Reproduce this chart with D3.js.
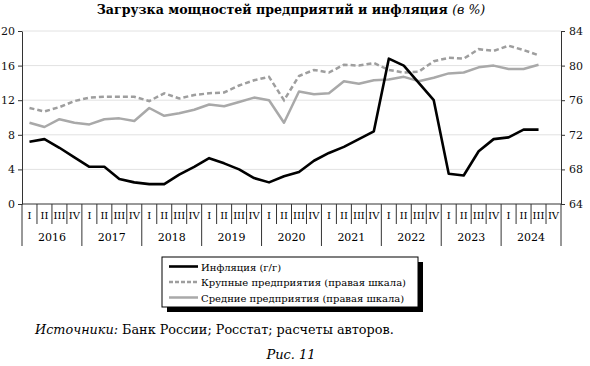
<!DOCTYPE html>
<html>
<head>
<meta charset="utf-8">
<script src="https://cdn.jsdelivr.net/npm/d3@7"></script>
<style>
  body { margin: 0; background: #fff; }
  svg text { font-family: "DejaVu Serif", "Liberation Serif", serif; }
</style>
</head>
<body>
<svg id="chart" width="590" height="366"></svg>
<script>
const years = ['2016', '2017', '2018', '2019', '2020', '2021', '2022', '2023', '2024'];
const quarterNames = ['I', 'II', 'III', 'IV'];

// inflation y/y, left scale, 2016Q1..2024Q3
const inflation = [7.2, 7.5, 6.5, 5.4, 4.3, 4.3, 2.9, 2.5, 2.3, 2.3, 3.4, 4.3,
  5.3, 4.7, 4.0, 3.0, 2.5, 3.2, 3.7, 5.0, 5.9, 6.6, 7.5, 8.4,
  16.8, 16.0, 14.0, 12.0, 3.5, 3.3, 6.1, 7.5, 7.7, 8.6, 8.6];
// capacity load, right scale
const large = [75.1, 74.7, 75.2, 75.9, 76.3, 76.4, 76.4, 76.4, 75.9, 76.8, 76.2, 76.6,
  76.8, 76.9, 77.7, 78.3, 78.7, 76.0, 78.8, 79.5, 79.2, 80.1, 80.0, 80.3,
  79.5, 79.2, 79.3, 80.5, 80.9, 80.8, 81.9, 81.7, 82.3, 81.8, 81.2];
const medium = [73.4, 72.9, 73.8, 73.4, 73.2, 73.8, 73.9, 73.6, 75.1, 74.2, 74.5, 74.9,
  75.5, 75.3, 75.8, 76.3, 76.0, 73.4, 77.0, 76.7, 76.8, 78.2, 77.9, 78.3,
  78.4, 78.7, 78.2, 78.6, 79.1, 79.2, 79.8, 80.0, 79.6, 79.6, 80.1];

const leftTicks = [0, 4, 8, 12, 16, 20];
const rightTicks = [64, 68, 72, 76, 80, 84];

const margin = { top: 31, right: 29, bottom: 162, left: 22 };
const width = 590, height = 366;
const serif = '"DejaVu Serif", "Liberation Serif", serif';

const svg = d3.select('#chart');

const quarters = [];
years.forEach(y => quarterNames.forEach(q => quarters.push(y + '-' + q)));

const x = d3.scaleBand().domain(quarters).range([margin.left, width - margin.right]).padding(0);
const yL = d3.scaleLinear().domain([0, 20]).range([height - margin.bottom, margin.top]);
const yR = d3.scaleLinear().domain([64, 84]).range([height - margin.bottom, margin.top]);
const cx = i => x(quarters[i]) + x.bandwidth() / 2;

// title
const title = svg.append('text')
  .attr('x', 291).attr('y', 14)
  .attr('text-anchor', 'middle')
  .style('font-size', '12.6px');
title.append('tspan').attr('font-weight', 'bold').text('Загрузка мощностей предприятий и инфляция ');
title.append('tspan').attr('font-style', 'italic').text('(в %)');

// gridlines
svg.append('g')
  .selectAll('line')
  .data(leftTicks.slice(1))
  .join('line')
  .attr('x1', margin.left).attr('x2', width - margin.right)
  .attr('y1', d => yL(d)).attr('y2', d => yL(d))
  .attr('stroke', '#e2e2e2').attr('stroke-width', 1);

// axes
const axisLeft = svg.append('g')
  .attr('transform', `translate(${margin.left},0)`)
  .call(d3.axisLeft(yL).tickValues(leftTicks).tickSize(4).tickPadding(3).tickSizeOuter(0));
const axisRight = svg.append('g')
  .attr('transform', `translate(${width - margin.right},0)`)
  .call(d3.axisRight(yR).tickValues(rightTicks).tickSize(4).tickPadding(4).tickSizeOuter(0));
[axisLeft, axisRight].forEach(a => {
  a.attr('font-family', serif);
  a.select('.domain').attr('stroke', '#333');
  a.selectAll('.tick line').attr('stroke', '#333');
  a.selectAll('.tick text').style('font-size', '11px').attr('fill', '#111');
});

// bottom axis with quarter and year cells
const base = yL(0);
const bottom = svg.append('g');
bottom.append('line')
  .attr('x1', margin.left).attr('x2', width - margin.right)
  .attr('y1', base).attr('y2', base)
  .attr('stroke', '#333');
const bounds = d3.range(quarters.length + 1);
bottom.selectAll('.sep')
  .data(bounds)
  .join('line')
  .attr('class', 'sep')
  .attr('x1', i => margin.left + i * x.bandwidth())
  .attr('x2', i => margin.left + i * x.bandwidth())
  .attr('y1', base)
  .attr('y2', i => (i % 4 === 0 ? base + 42 : base + 20))
  .attr('stroke', '#333');
bottom.selectAll('.qlab')
  .data(quarters)
  .join('text')
  .attr('class', 'qlab')
  .attr('x', d => x(d) + x.bandwidth() / 2)
  .attr('y', base + 15)
  .attr('text-anchor', 'middle')
  .style('font-size', '10px')
  .text(d => d.split('-')[1]);
bottom.selectAll('.ylab')
  .data(years)
  .join('text')
  .attr('class', 'ylab')
  .attr('x', d => x(d + '-I') + x.bandwidth() * 2)
  .attr('y', base + 37)
  .attr('text-anchor', 'middle')
  .style('font-size', '11px')
  .text(d => d);

// lines
const lineL = d3.line().x((d, i) => cx(i)).y(d => yL(d));
const lineR = d3.line().x((d, i) => cx(i)).y(d => yR(d));

svg.append('path').datum(medium)
  .attr('d', lineR).attr('fill', 'none')
  .attr('stroke', '#a9a9a9').attr('stroke-width', 2.5).attr('stroke-linejoin', 'round');
svg.append('path').datum(large)
  .attr('d', lineR).attr('fill', 'none')
  .attr('stroke', '#9e9e9e').attr('stroke-width', 2.5).attr('stroke-dasharray', '5,3');
svg.append('path').datum(inflation)
  .attr('d', lineL).attr('fill', 'none')
  .attr('stroke', '#000').attr('stroke-width', 2.6).attr('stroke-linejoin', 'round');

// legend
const lg = svg.append('g').attr('transform', 'translate(162,257)');
lg.append('rect').attr('x', 5).attr('y', 5).attr('width', 256).attr('height', 50).attr('fill', '#000');
lg.append('rect').attr('x', 0).attr('y', 0).attr('width', 256).attr('height', 50)
  .attr('fill', '#fff').attr('stroke', '#000').attr('stroke-width', 1);
const legendItems = [
  { label: 'Инфляция (г/г)', color: '#000', dash: null, w: 2.6 },
  { label: 'Крупные предприятия (правая шкала)', color: '#9e9e9e', dash: '4,2', w: 2.5 },
  { label: 'Средние предприятия (правая шкала)', color: '#a9a9a9', dash: null, w: 2.5 }
];
const li = lg.selectAll('.item').data(legendItems).join('g')
  .attr('transform', (d, i) => `translate(7,${9.5 + i * 15.5})`);
li.append('line').attr('x1', 0).attr('x2', 29).attr('y1', 0).attr('y2', 0)
  .attr('stroke', d => d.color).attr('stroke-width', d => d.w)
  .attr('stroke-dasharray', d => d.dash);
li.append('text').attr('x', 32).attr('y', 4).style('font-size', '10px').text(d => d.label);

// source and figure caption
const src = svg.append('text').attr('x', 35).attr('y', 334).style('font-size', '12.8px');
src.append('tspan').attr('font-style', 'italic').text('Источники:');
src.append('tspan').text(' Банк России; Росстат; расчеты авторов.');
svg.append('text').attr('x', 291).attr('y', 359).attr('text-anchor', 'middle')
  .attr('font-style', 'italic').style('font-size', '13px').text('Рис. 11');
</script>
</body>
</html>
